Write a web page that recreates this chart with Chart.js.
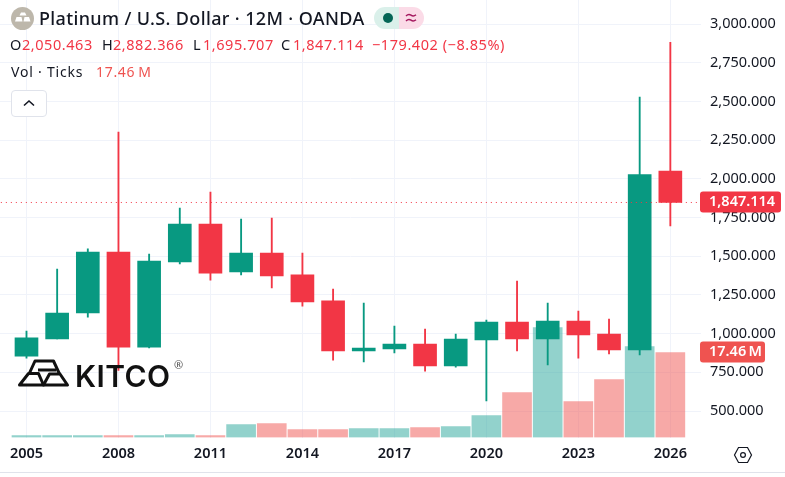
<!DOCTYPE html>
<html>
<head>
<meta charset="utf-8">
<title>Platinum / U.S. Dollar</title>
<script src="https://cdn.jsdelivr.net/npm/chart.js@4/dist/chart.umd.min.js"></script>
<style>
  html, body { margin: 0; padding: 0; background: #fff; }
  #wrap { position: relative; width: 785px; height: 477px; overflow: hidden; font-family: "Noto Sans", sans-serif; color: #131722; }
  #grafico { position: absolute; left: 0; top: 0; }
  #wrap > div, #wrap > svg { position: absolute; white-space: pre; }
  #pill svg, #btn svg { position: absolute; left: 0; top: 0; }
  #titulo { left: 39px; top: 5px; font-size: 18px; line-height: 26px; letter-spacing: 0.36px; font-weight: 500; }
  .linha { font-size: 14.5px; line-height: 20px; top: 34px; letter-spacing: 0.55px; }
  .red { color: #f23645; }
  #vol { left: 11px; top: 62px; font-size: 14px; line-height: 20px; letter-spacing: 0.8px; }
  #volValor { left: 96px; top: 62px; font-size: 14px; line-height: 20px; color: #ef5350; letter-spacing: 0.7px; }
  #btn { left: 11px; top: 90px; width: 34px; height: 25px; border: 1px solid #e0e3eb; border-radius: 4px; background: #fff; }
  #pill { left: 374px; top: 7px; width: 50px; height: 22px; border-radius: 11px; overflow: hidden; background: linear-gradient(90deg, #daf0ea 50%, #fbdbe7 50%); }
  #marca { left: 75px; top: 358px; font-family: "Inter", sans-serif; font-size: 30px; line-height: 36px; font-weight: 600; color: #111; letter-spacing: 0.4px; }
  #reg { left: 174px; top: 358px; font-size: 11px; line-height: 14px; color: #555; }
  #rodape { left: 0; top: 472px; width: 785px; height: 1px; background: #e0e3eb; }
</style>
</head>
<body>
<div id="wrap">
  <canvas id="grafico" width="785" height="477"></canvas>

  <svg style="left:11px;top:7px" width="23" height="23" viewBox="0 0 23 23">
    <circle cx="11.5" cy="11.5" r="11.5" fill="#bdb7ab"/>
    <path d="M8.5 8.5 L10 5.5 H14 L15.5 8.5 Z M4 14.5 L5.5 10 H10.5 L11.5 14.5 Z M12.5 14.5 L13.5 10 H18 L19.5 14.5 Z" fill="#fff"/>
  </svg>
  <div id="titulo">Platinum / U.S. Dollar · 12M · OANDA</div>
  <div id="pill">
    <svg width="50" height="22" viewBox="0 0 50 22">
      <circle cx="14" cy="11" r="5" fill="#056656"/>
      <path d="M32 9 q2.5 -2.5 5 -0.8 t5 -0.5 M32 14 q2.5 -2.5 5 -0.8 t5 -0.5" fill="none" stroke="#a5195f" stroke-width="1.5"/>
    </svg>
  </div>
  <div class="linha" style="left:10px">O</div>
  <div class="linha red" id="vO" style="left:22px"></div>
  <div class="linha" style="left:102px">H</div>
  <div class="linha red" id="vH" style="left:113px"></div>
  <div class="linha" style="left:193px">L</div>
  <div class="linha red" id="vL" style="left:203px"></div>
  <div class="linha" style="left:281px">C</div>
  <div class="linha red" id="vC" style="left:293px"></div>
  <div class="linha red" id="vD" style="left:372px"></div>
  <div id="vol">Vol · Ticks</div>
  <div id="volValor"></div>
  <div id="btn">
    <svg width="34" height="25" viewBox="0 0 34 25"><path d="M12 14.5 L17 10 L22 14.5" fill="none" stroke="#131722" stroke-width="1.6"/></svg>
  </div>

  <svg style="left:15px;top:356px" width="58" height="34" viewBox="15 356 58 34">
    <g fill="none" stroke="#111" stroke-width="3" stroke-linejoin="round">
      <path d="M19.5 385 L28.5 373.5 H38.5 L43.5 385 Z"/>
      <path d="M43.5 385 L49.5 374 H60 L67.5 385 Z"/>
      <path d="M29.5 373 L35 361 H53.5 L59.5 374"/>
      <path d="M38 370 H56"/>
    </g>
  </svg>
  <div id="marca">KITCO</div>
  <div id="reg">®</div>

  <svg style="left:733px;top:445px" width="20" height="20" viewBox="0 0 20 20">
    <path d="M5.5 2.5 H14.5 L18.5 10 L14.5 17.5 H5.5 L1.5 10 Z" fill="none" stroke="#131722" stroke-width="1.2"/>
    <circle cx="10" cy="10" r="2.4" fill="none" stroke="#131722" stroke-width="1.2"/>
  </svg>
  <div id="rodape"></div>
</div>

<script>
// candles anuais, um valor por ano
const years = [2005, 2006, 2007, 2008, 2009, 2010, 2011, 2012, 2013, 2014, 2015, 2016, 2017, 2018, 2019, 2020, 2021, 2022, 2023, 2024, 2025, 2026]
const opens = [855, 965, 1133, 1527, 913, 1463, 1708, 1398, 1521, 1379, 1211, 888, 901, 933, 791, 959, 1075, 965, 1081, 997, 894, 2050.463]
const highs = [1017, 1417, 1547, 2302, 1514, 1811, 1915, 1740, 1747, 1521, 1288, 1198, 1049, 1030, 997, 1088, 1340, 1198, 1146, 1094, 2528, 2882.366]
const lows = [842, 965, 1107, 762, 907, 1450, 1346, 1379, 1295, 1178, 829, 817, 875, 758, 784, 565, 888, 797, 842, 868, 862, 1695.707]
const closes = [972, 1133, 1527, 913, 1469, 1708, 1391, 1521, 1372, 1204, 888, 907, 933, 791, 965, 1075, 965, 1081, 991, 894, 2026.516, 1847.114]
const volumes = [0.41, 0.41, 0.41, 0.41, 0.41, 0.62, 0.41, 2.67, 2.88, 1.64, 1.64, 1.85, 1.85, 2.05, 2.26, 4.52, 9.24, 22.6, 7.39, 11.91, 18.69, 17.46]
const yearTicks = [2005, 2008, 2011, 2014, 2017, 2020, 2023, 2026]

const VERDE = '#089981'
const VERMELHO = '#f23645'
const n = years.length - 1

const fmt = v => v.toLocaleString('en-US', { minimumFractionDigits: 3, maximumFractionDigits: 3 })
const fmtVol = v => v.toFixed(2) + '\u2009M'
const sobe = i => closes[i] > opens[i]

// cabecalho com o ultimo candle, variacao contra o fechamento anterior
const variacao = closes[n] - closes[n - 1]
document.getElementById('vO').textContent = fmt(opens[n])
document.getElementById('vH').textContent = fmt(highs[n])
document.getElementById('vL').textContent = fmt(lows[n])
document.getElementById('vC').textContent = fmt(closes[n])
document.getElementById('vD').textContent = '−' + fmt(-variacao) + ' (−' + (-variacao / closes[n - 1] * 100).toFixed(2) + '%)'
document.getElementById('volValor').textContent = fmtVol(volumes[n])

// etiquetas do eixo direito: ultimo preco e volume
const etiquetas = {
    id: 'etiquetas',
    afterDraw(chart) {
        const c = chart.ctx
        const desenha = (y, w, cor, texto) => {
            c.save()
            c.fillStyle = cor
            c.beginPath()
            c.roundRect(700, Math.round(y) - 10.5, w, 21, 3)
            c.fill()
            c.fillStyle = '#fff'
            c.font = '600 14.5px "Noto Sans"'
            c.textBaseline = 'middle'
            c.fillText(texto, 709, Math.round(y))
            c.restore()
        }
        desenha(chart.scales.y.getPixelForValue(closes[n]), 81, VERMELHO, fmt(closes[n]))
        desenha(chart.scales.y1.getPixelForValue(volumes[n]), 65, '#ef5350', fmtVol(volumes[n]))
    }
}

new Chart(document.getElementById('grafico'), {
    type: 'bar',
    data: {
        datasets: [
            {
                // linha pontilhada do ultimo preco
                type: 'line',
                data: [{ x: 2004, y: closes[n] }, { x: 2028, y: closes[n] }],
                borderColor: VERMELHO,
                borderWidth: 1,
                borderDash: [1, 4],
                pointRadius: 0,
                order: 0
            },
            {
                // corpo
                data: years.map((y, i) => ({ x: y, y: [opens[i], closes[i]] })),
                backgroundColor: years.map((y, i) => sobe(i) ? VERDE : VERMELHO),
                barThickness: 23,
                grouped: false,
                order: 1
            },
            {
                // pavio
                data: years.map((y, i) => ({ x: y, y: [lows[i], highs[i]] })),
                backgroundColor: years.map((y, i) => sobe(i) ? VERDE : VERMELHO),
                barThickness: 1.2,
                grouped: false,
                order: 2
            },
            {
                // volume
                data: years.map((y, i) => ({ x: y, y: volumes[i] })),
                backgroundColor: years.map((y, i) => sobe(i) ? 'rgba(38,166,154,0.5)' : 'rgba(239,83,80,0.5)'),
                yAxisID: 'y1',
                barThickness: 29,
                grouped: false,
                order: 3
            }
        ]
    },
    options: {
        responsive: false,
        animation: false,
        events: [],
        layout: { padding: 0 },
        plugins: { legend: { display: false }, tooltip: { enabled: false } },
        scales: {
            x: {
                type: 'linear',
                offset: false,
                min: 2004.136,
                max: 2027,
                grid: { color: '#f0f3fa', offset: false, drawTicks: false },
                border: { display: false },
                afterBuildTicks: axis => { axis.ticks = yearTicks.map(v => ({ value: v })) },
                afterFit: axis => { axis.height = 39.5 },
                ticks: {
                    autoSkip: false,
                    maxRotation: 0,
                    padding: 8,
                    color: '#131722',
                    font: { family: '"Noto Sans"', size: 14.5, weight: '600' },
                    callback: v => String(v)
                }
            },
            y: {
                position: 'right',
                min: 328.9,
                max: 3155.04,
                grid: { color: '#f0f3fa', drawTicks: false },
                border: { display: false },
                afterFit: axis => {
                    axis.width = 84
                    axis.paddingTop = 0
                    axis.paddingBottom = 0
                },
                ticks: {
                    stepSize: 250,
                    includeBounds: false,
                    autoSkip: false,
                    padding: 9,
                    color: '#131722',
                    font: { family: '"Noto Sans"', size: 14.5 },
                    callback: v => fmt(v)
                }
            },
            y1: {
                display: false,
                min: 0,
                max: 89.86
            }
        }
    },
    plugins: [etiquetas]
})
</script>
</body>
</html>
